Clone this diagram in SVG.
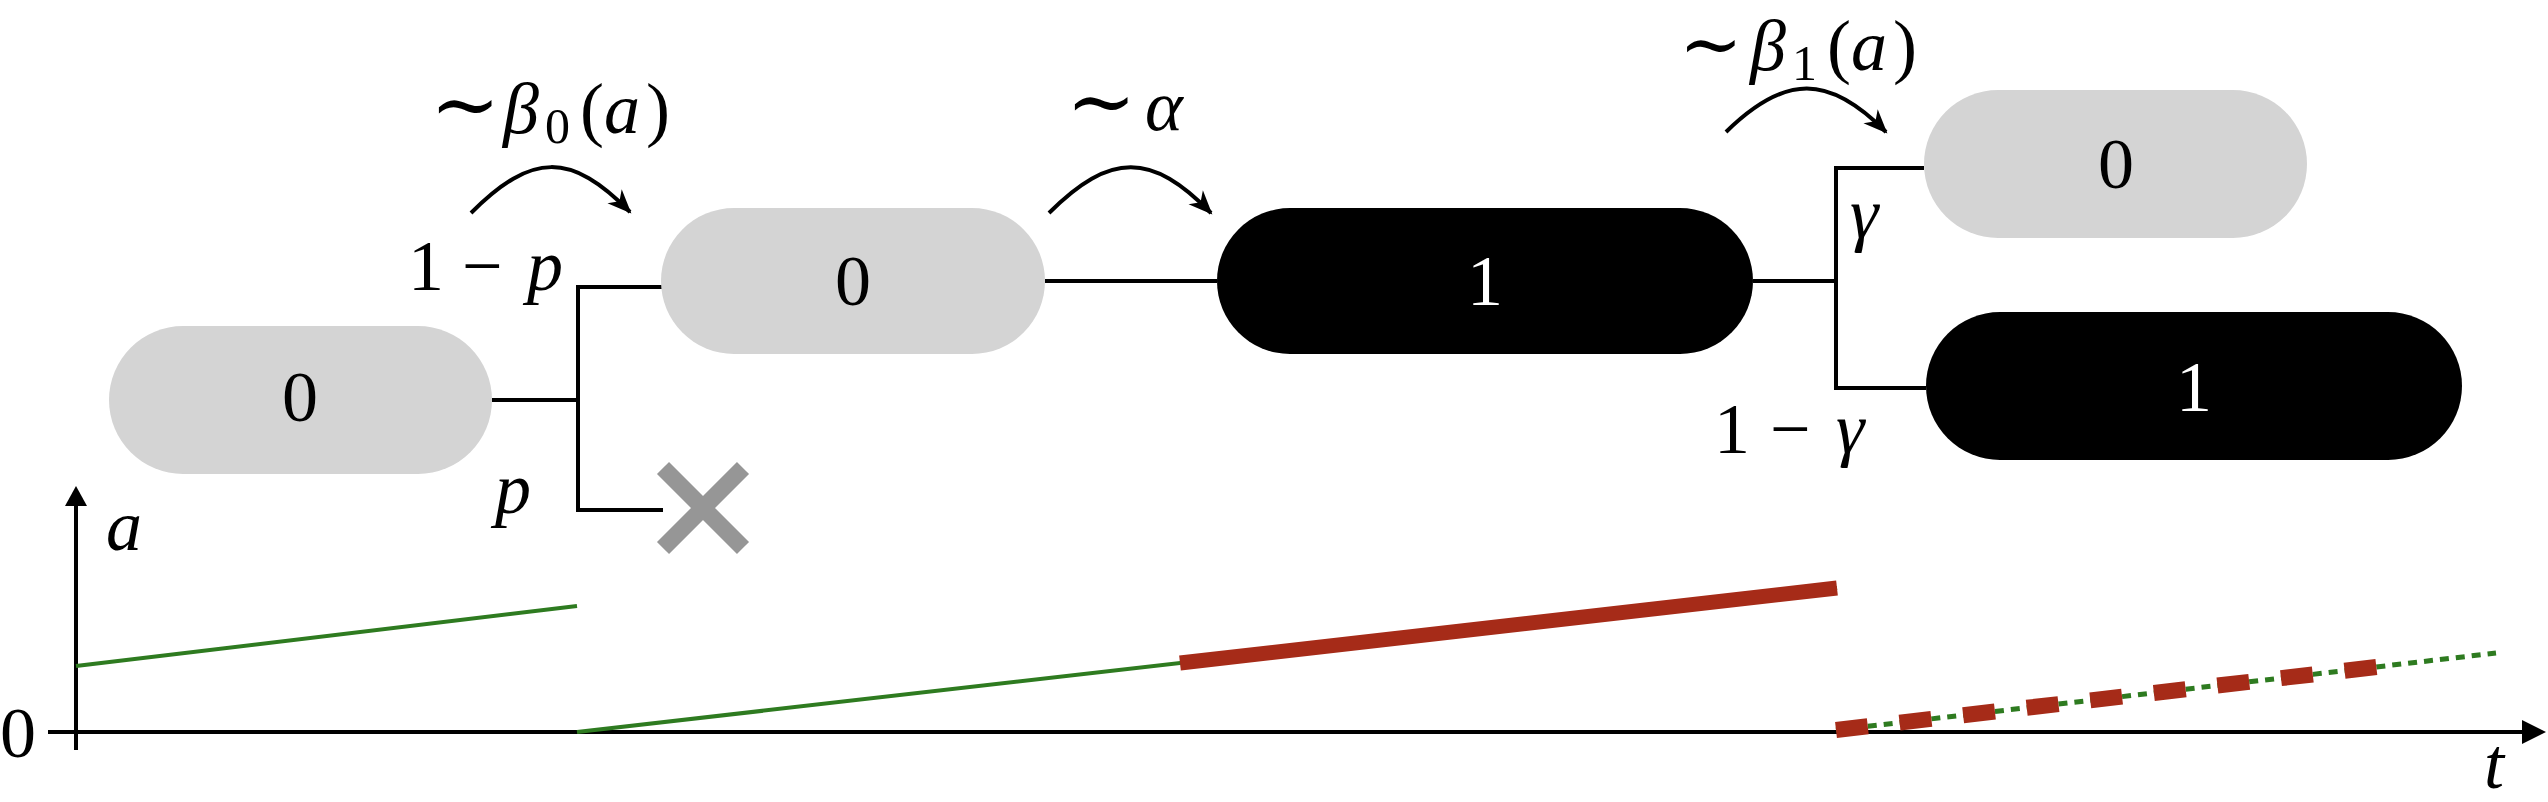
<svg xmlns="http://www.w3.org/2000/svg" width="2548" height="802" viewBox="0 0 2548 802">
<style>
.gray{fill:#d4d4d4}
.blk{fill:#000}
.lbl{font-family:"Liberation Serif","DejaVu Serif",serif;font-size:72px;fill:#000}
.wl{fill:#fff}
.i{font-style:italic}
.tl{font-size:84px}
.ln{fill:none;stroke:#000;stroke-width:4}
.arc{fill:none;stroke:#000;stroke-width:4;marker-end:url(#ah)}
.ax{fill:none;stroke:#000;stroke-width:4}
.grn{fill:none;stroke:#2e7b20;stroke-width:4}
</style>
<defs>
<marker id="ah" markerUnits="userSpaceOnUse" markerWidth="30" markerHeight="30" viewBox="-26 -13 30 26" refX="0" refY="0" orient="auto">
<path d="M2,0 L-22,-10 L-15,0 L-22,10 Z" fill="#000"/>
</marker>
</defs>
<rect width="2548" height="802" fill="#fff"/>

<g id="connectors">
<path class="ln" d="M492,400 H578 M578,287 V510 M576,287 H662 M576,510 H663"/>
<path class="ln" d="M1045,281 H1217"/>
<path class="ln" d="M1753,281 H1836 M1836,166 V390 M1834,168 H1924 M1834,388 H1926"/>
<path class="arc" d="M471,213 C532,152 571,152 630,212"/>
<path class="arc" d="M1049,213 C1110,152 1152,152 1211,213"/>
<path class="arc" d="M1726,132 C1785,74 1829,74 1886,132"/>
</g>

<g id="node1"><rect class="gray" x="109" y="326" width="383" height="148" rx="74"/><text class="lbl" x="300" y="421" text-anchor="middle">0</text></g>
<g id="node2"><rect class="gray" x="661" y="208" width="384" height="146" rx="73"/><text class="lbl" x="853" y="305" text-anchor="middle">0</text></g>
<g id="node3"><rect class="blk" x="1217" y="208" width="536" height="146" rx="73"/><text class="lbl wl" x="1485" y="305" text-anchor="middle">1</text></g>
<g id="node4"><rect class="gray" x="1924" y="90" width="383" height="148" rx="74"/><text class="lbl" x="2116" y="188" text-anchor="middle">0</text></g>
<g id="node5"><rect class="blk" x="1926" y="312" width="536" height="148" rx="74"/><text class="lbl wl" x="2194" y="411" text-anchor="middle">1</text></g>

<g id="death">
<path d="M663,468 L743,548 M743,468 L663,548" stroke="#969696" stroke-width="17" fill="none"/>
</g>

<g id="labels">
<text class="lbl" y="133"><tspan x="430" class="tl">∼</tspan><tspan x="503" class="i">β</tspan><tspan x="545" dy="10" font-size="50">0</tspan><tspan x="580" dy="-10">(</tspan><tspan x="604" class="i">a</tspan><tspan x="646">)</tspan></text>
<text class="lbl" y="130"><tspan x="1066" class="tl">∼</tspan><tspan x="1145" class="i">α</tspan></text>
<text class="lbl" y="70"><tspan x="1679" font-size="76">∼</tspan><tspan x="1750" class="i">β</tspan><tspan x="1792" dy="10" font-size="50">1</tspan><tspan x="1827" dy="-10">(</tspan><tspan x="1851" class="i">a</tspan><tspan x="1893">)</tspan></text>
<text class="lbl" y="290"><tspan x="408">1</tspan><tspan x="462">−</tspan><tspan x="527" class="i">p</tspan></text>
<text class="lbl i" x="495" y="513">p</text>
<text class="lbl i" x="1850" y="238">γ</text>
<text class="lbl" y="453"><tspan x="1714">1</tspan><tspan x="1770">−</tspan><tspan x="1836" class="i">γ</tspan></text>
</g>

<g id="axes">
<path class="ax" d="M76,750 V502"/>
<path d="M76,486 L65,506 L87,506 Z" fill="#000"/>
<path class="ax" d="M48,732 H2524"/>
<path d="M2546,732 L2522,720 L2522,744 Z" fill="#000"/>
<text class="lbl i" x="106" y="550" font-size="80">a</text>
<text class="lbl" x="0" y="757" font-size="84">0</text>
<text class="lbl i" x="2484" y="788" font-size="78">t</text>
</g>

<g id="traces">
<path class="grn" d="M76,666 L577,606"/>
<path class="grn" d="M577,732 L1837,588"/>
<path d="M1180,663 L1837,588" stroke="#a62b18" stroke-width="15" fill="none"/>
<path d="M1836,730 L2496,653" stroke="#2e7b20" stroke-width="5" stroke-dasharray="9 7" fill="none"/>
<path d="M1836,730 L2381,666.5" stroke="#a62b18" stroke-width="16" stroke-dasharray="32 32" fill="none"/>
</g>
</svg>
